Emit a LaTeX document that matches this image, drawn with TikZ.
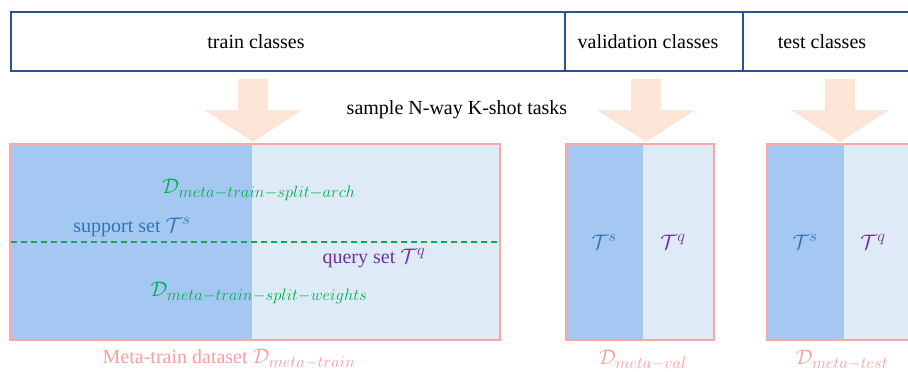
\RequirePackage{fix-cm}
\documentclass[tikz,border=0pt]{standalone}
\usepackage{fontspec}
\setmainfont{Liberation Serif}
\DeclareMathSizes{20}{21}{16.5}{12}
\definecolor{topline}{RGB}{47,82,143}
\definecolor{arrowfill}{RGB}{251,229,214}
\definecolor{pinkline}{RGB}{248,166,166}
\definecolor{pinktext}{RGB}{247,160,160}
\definecolor{darkfill}{RGB}{164,200,242}
\definecolor{lightfill}{RGB}{222,234,246}
\definecolor{greentext}{RGB}{0,176,80}
\definecolor{bluetext}{RGB}{46,117,182}
\definecolor{purpletext}{RGB}{112,48,160}
\begin{document}
\begin{tikzpicture}[x=1pt,y=-1pt,
  cell/.style={draw=topline, line width=1.3pt, fill=white, inner sep=0pt},
  toptext/.style={font=\fontsize{20}{24}\selectfont, text=black, inner sep=0pt},
  dsbox/.style={draw=pinkline, line width=2pt, inner sep=0pt},
  inner/.style={font=\fontsize{20}{24}\selectfont, inner sep=0pt},
  lbl/.style={font=\fontsize{20}{24}\selectfont, text=pinktext, inner sep=0pt}]
\useasboundingbox (0,0) rectangle (908,372);
% top bar
\node[cell, minimum width=554pt, minimum height=59pt] (train) at (288,41.5) {};
\node[cell, minimum width=178pt, minimum height=59pt] (test) at (832,41.5) {};
\node[cell, minimum width=178pt, minimum height=59pt] (val) at (654,41.5) {};
\node[toptext] (traint) at (256,42) {train classes};
\node[toptext] (valt) at (648,42) {validation classes};
\node[toptext] (testt) at (822,42) {test classes};
% arrows
\foreach \c in {253,646,840}
  \fill[arrowfill] (\c-15,79) -- (\c+15,79) -- (\c+15,110) -- (\c+49,110) -- (\c,142) -- (\c-49,110) -- (\c-15,110) -- cycle;
\node[toptext] (sample) at (457,110) {sample N-way K-shot tasks};
% meta-train box
\fill[darkfill] (10,144) rectangle (252,340);
\fill[lightfill] (252,144) rectangle (500,340);
\node[dsbox, minimum width=490pt, minimum height=196pt] (mt) at (255,242) {};
\coordinate (dl) at (11,242);
\coordinate (dr) at (499,242);
\draw[greentext, line width=1.3pt, dash pattern=on 6pt off 4pt] (dl) -- (dr);
\node[inner, text=greentext] (arch) at (259,190) {$\mathcal{D}_{meta-train-split-arch}$};
\node[inner, text=bluetext] (sup) at (132,227) {support set $\mathcal{T}^{s}$};
\node[inner, text=purpletext] (qry) at (374,258) {query set $\mathcal{T}^{q}$};
\node[inner, text=greentext] (wts) at (259,293) {$\mathcal{D}_{meta-train-split-weights}$};
\node[lbl] (mtl) at (229,359) {Meta-train dataset $\mathcal{D}_{meta-train}$};
% val box
\fill[darkfill] (566,144) rectangle (643,340);
\fill[lightfill] (643,144) rectangle (714,340);
\node[dsbox, minimum width=148pt, minimum height=196pt] (mv) at (640,242) {};
\node[inner, text=bluetext] (vs) at (604,242) {$\mathcal{T}^{s}$};
\node[inner, text=purpletext] (vq) at (673,242) {$\mathcal{T}^{q}$};
\node[lbl] (mvl) at (643,360) {$\mathcal{D}_{meta-val}$};
% test box
\fill[darkfill] (767,144) rectangle (844,340);
\fill[lightfill] (844,144) rectangle (920,340);
\node[dsbox, minimum width=153pt, minimum height=196pt] (mte) at (843.5,242) {};
\node[inner, text=bluetext] (ts) at (805,242) {$\mathcal{T}^{s}$};
\node[inner, text=purpletext] (tq) at (873,242) {$\mathcal{T}^{q}$};
\node[lbl] (mtel) at (842,360) {$\mathcal{D}_{meta-test}$};
\end{tikzpicture}
\end{document}
